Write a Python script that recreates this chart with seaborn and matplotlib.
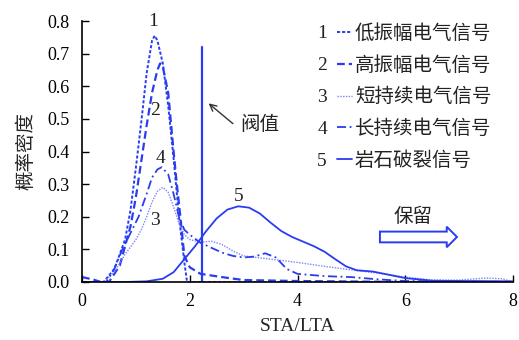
import numpy as np
import pandas as pd
import matplotlib
matplotlib.use("Agg")
import matplotlib.pyplot as plt
import seaborn as sns
from matplotlib.patches import FancyArrow

sns.set_theme(style="ticks")
plt.rcParams['font.family'] = ['Liberation Serif', 'Noto Sans CJK SC']
plt.rcParams['axes.unicode_minus'] = False

labels = ["低振幅电气信号", "高振幅电气信号", "短持续电气信号", "长持续电气信号", "岩石破裂信号"]

x1 = [0.0, 0.4, 0.6, 0.8, 0.9, 1.0, 1.1, 1.2, 1.3, 1.35, 1.4, 1.5, 1.6, 1.7, 1.8, 1.9, 1.95, 8.0]
y1 = [0.0, 0.0, 0.04, 0.13, 0.22, 0.35, 0.49, 0.64, 0.74, 0.755, 0.74, 0.67, 0.54, 0.38, 0.2, 0.06, 0.0, 0.0]

x2 = [0.0, 0.2, 0.35, 0.5, 0.7, 0.9, 1.0, 1.1, 1.2, 1.3, 1.4, 1.45, 1.5, 1.6, 1.7, 1.76, 1.8, 1.9, 2.0, 2.2, 2.6, 3.0, 4.0, 6.0, 8.0]
y2 = [0.015, 0.008, 0.0, 0.0, 0.05, 0.17, 0.26, 0.37, 0.48, 0.58, 0.65, 0.67, 0.66, 0.58, 0.40, 0.30, 0.24, 0.08, 0.045, 0.025, 0.015, 0.006, 0.003, 0.0, 0.0]

x3 = [0.0, 0.4, 0.6, 0.8, 1.0, 1.1, 1.2, 1.3, 1.4, 1.5, 1.6, 1.7, 1.8, 1.9, 2.0, 2.2, 2.4, 2.6, 2.8, 3.0, 3.5, 4.0, 4.5, 5.0, 5.5, 6.0, 6.5, 7.0, 7.5, 7.8, 8.0]
y3 = [0.0, 0.0, 0.03, 0.085, 0.13, 0.16, 0.2, 0.245, 0.278, 0.29, 0.275, 0.23, 0.18, 0.145, 0.13, 0.122, 0.125, 0.115, 0.095, 0.08, 0.07, 0.06, 0.048, 0.037, 0.027, 0.015, 0.006, 0.006, 0.012, 0.01, 0.0]

x4 = [0.0, 0.45, 0.6, 0.75, 0.9, 1.05, 1.2, 1.3, 1.4, 1.48, 1.6, 1.7, 1.8, 1.9, 2.0, 2.2, 2.4, 2.6, 2.8, 3.0, 3.2, 3.4, 3.6, 3.8, 4.0, 4.5, 5.0, 5.5, 6.0, 8.0]
y4 = [0.0, 0.0, 0.04, 0.1, 0.15, 0.2, 0.27, 0.32, 0.345, 0.352, 0.33, 0.27, 0.2, 0.16, 0.145, 0.12, 0.105, 0.09, 0.08, 0.075, 0.078, 0.088, 0.075, 0.04, 0.025, 0.018, 0.015, 0.008, 0.003, 0.0]

x5 = [0.0, 0.8, 1.2, 1.5, 1.7, 1.9, 2.1, 2.3, 2.5, 2.7, 2.9, 3.1, 3.3, 3.5, 3.7, 3.9, 4.1, 4.3, 4.5, 4.7, 4.9, 5.1, 5.4, 5.7, 6.0, 6.5, 7.0, 8.0]
y5 = [0.0, 0.0, 0.002, 0.01, 0.03, 0.07, 0.11, 0.155, 0.195, 0.222, 0.232, 0.228, 0.21, 0.182, 0.156, 0.138, 0.124, 0.11, 0.093, 0.07, 0.048, 0.036, 0.032, 0.022, 0.012, 0.004, 0.003, 0.002]

threshold = 2.22
xs = [x1, x2, x3, x4, x5]
ys = [y1, y2, y3, y4, y5]

blue = '#2a3cf2'
light = '#7c82ff'
styles = [
    dict(color=blue, lw=1.4, dashes=(1.6, 1.0)),
    dict(color=blue, lw=1.6, dashes=(3.5, 1.8)),
    dict(color=light, lw=1.0, dashes=(1.0, 1.0)),
    dict(color=blue, lw=1.3, dashes=(5, 2, 1, 2)),
    dict(color=blue, lw=1.3, dashes=None),
]

fig = plt.figure(figsize=(5.19, 3.40), dpi=100)
ax = fig.add_axes([82/519, 1-282/340, (513-82)/519, (282-21)/340])

for i in range(5):
    df = pd.DataFrame({"x": xs[i], "y": ys[i]})
    st = styles[i]
    sns.lineplot(data=df, x="x", y="y", ax=ax, sort=False, estimator=None,
                 color=st["color"], linewidth=st["lw"], label=labels[i])
    if st["dashes"] is not None:
        ax.lines[-1].set_dashes(st["dashes"])

ax.axvline(threshold, ymin=0, ymax=0.72/0.8, color=blue, lw=1.6)

ax.set_xlim(0, 8)
ax.set_ylim(0, 0.8)
ax.set_xticks([0, 2, 4, 6, 8])
ax.set_yticks(np.arange(0, 0.81, 0.1))
ax.set_yticklabels([f"{v:.1f}" for v in np.arange(0, 0.81, 0.1)])
ax.tick_params(direction='in', length=5, width=1.0, labelsize=13, colors='black')
ax.tick_params(axis='y', pad=9)
ax.tick_params(axis='x', pad=8)
sns.despine(ax=ax)
for s in ['left', 'bottom']:
    ax.spines[s].set_linewidth(1.2)
    ax.spines[s].set_color('black')

ax.set_xlabel("STA/LTA", fontsize=14)
ax.set_ylabel("概率密度", fontsize=14)
ax.xaxis.set_label_coords(0.5, -(318-282)/261)
ax.yaxis.set_label_coords(-(82-35)/431, 0.5)

# curve number labels
for txt, (tx, ty) in zip(["1", "2", "3", "4", "5"],
                         [(1.32, 0.80), (1.35, 0.527), (1.35, 0.19), (1.45, 0.38), (2.9, 0.262)]):
    ax.text(tx, ty, txt, fontsize=14, ha='center', va='center', color='#222222')

# threshold annotation
ax.annotate("", xy=(2.31, 0.553), xytext=(2.84, 0.48),
            arrowprops=dict(arrowstyle='->', color='#333333', lw=1.0))
ax.text(2.93, 0.48, "阀值", fontsize=14, ha='left', va='center', color='#222222')

# keep arrow
arr = FancyArrow(5.53, 0.138, 1.43, 0.0, width=0.033, head_width=0.063,
                 head_length=0.19, length_includes_head=True,
                 facecolor='white', edgecolor=blue, lw=1.4, clip_on=False)
ax.add_patch(arr)
ax.text(6.15, 0.20, "保留", fontsize=14, ha='center', va='center', color='#222222')

# legend
leg = ax.legend(loc='upper left', bbox_to_anchor=(337/519, 1-24/340), bbox_transform=fig.transFigure,
                frameon=False, fontsize=14, handlelength=0.77, handletextpad=0.15,
                labelspacing=0.68, borderpad=0, borderaxespad=0)
for t in leg.get_texts():
    t.set_color('#222222')
for j, yy in enumerate([34, 66, 98, 130, 162]):
    fig.text(322/519, 1-yy/340, str(j+1), fontsize=14, ha='center', va='center', color='#222222')

fig.savefig("out.png", dpi=100)
